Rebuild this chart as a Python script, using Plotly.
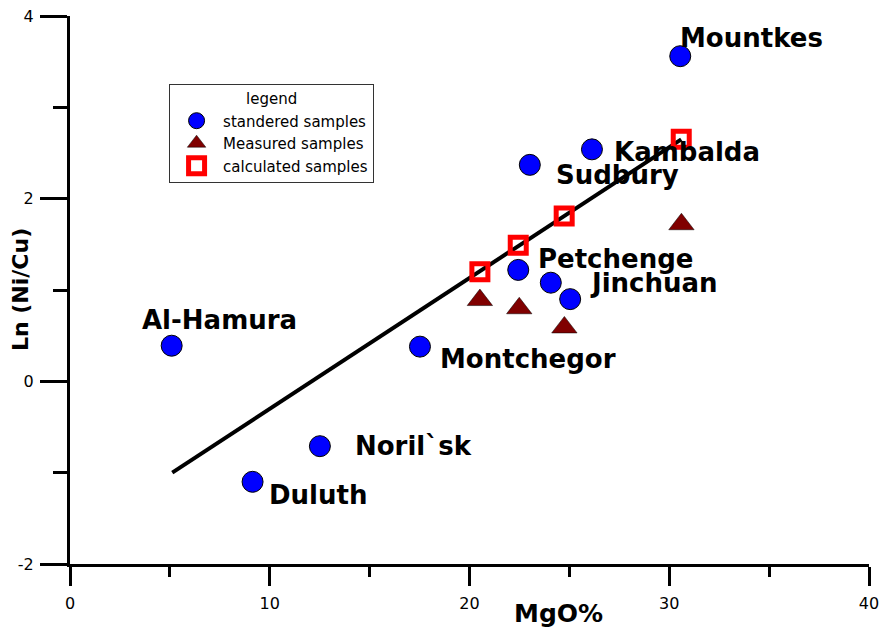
import plotly.graph_objects as go

# ---- data ----
std_x = [30.55, 26.13, 23.02, 22.44, 24.07, 25.04, 5.09, 17.52, 12.51, 9.14]
std_y = [3.56, 2.54, 2.37, 1.22, 1.08, 0.90, 0.39, 0.38, -0.71, -1.10]
std_labels = ["Mountkes", "Kambalda", "Sudbury", "Petchenge", "", "Jinchuan",
              "Al-Hamura", "Montchegor", "Noril`sk", "Duluth"]
# label offsets in pixels (dx, dy)
label_dx = [-2, 20, 24, 18, 0, 18, -32, 18, 33, 14]
label_dy = [18, -3, -10, 11, 0, 16, 26, -12, 0, -13]

meas_x = [20.52, 22.49, 24.75, 30.61]
meas_y = [0.89, 0.80, 0.59, 1.72]

calc_x = [20.52, 22.44, 24.74, 30.60]
calc_y = [1.20, 1.49, 1.81, 2.65]

fit_x = [5.12, 30.60]
fit_y = [-1.00, 2.65]

x_ticks = [0, 10, 20, 30, 40]
x_tick_text = ["0", "10", "20", "30", "40"]
y_ticks = [-2, 0, 2, 4]
y_tick_text = ["-2", "0", "2", "4"]

LABEL_FONT = dict(family="DejaVu Sans", size=26, color="black")

fig = go.Figure()

fig.add_trace(go.Scatter(
    x=fit_x, y=fit_y, mode="lines", line=dict(color="black", width=4),
    showlegend=False, hoverinfo="skip"))

fig.add_trace(go.Scatter(
    x=std_x, y=std_y, mode="markers", name="standered samples",
    marker=dict(symbol="circle", size=21, color="#0000FF",
                line=dict(color="black", width=1)), cliponaxis=False))

fig.add_trace(go.Scatter(
    x=meas_x, y=meas_y, mode="markers", name="Measured samples",
    marker=dict(symbol="triangle-up", size=22, color="#800000",
                line=dict(color="black", width=0.5)), cliponaxis=False))

fig.add_trace(go.Scatter(
    x=calc_x, y=calc_y, mode="markers", name="calculated samples",
    marker=dict(symbol="square-open", size=16, color="#FF0000",
                line=dict(color="#FF0000", width=5)), cliponaxis=False))

for x, y, t, dx, dy in zip(std_x, std_y, std_labels, label_dx, label_dy):
    if not t:
        continue
    fig.add_annotation(x=x, y=y, text="<b>%s</b>" % t, showarrow=False,
                       xanchor="left", yanchor="middle", xshift=dx, yshift=dy,
                       font=LABEL_FONT)

# axis titles
fig.add_annotation(x=0.611, y=-0.09, xref="paper", yref="paper",
                   text="<b>MgO%</b>", showarrow=False,
                   xanchor="center", yanchor="middle",
                   font=dict(family="DejaVu Sans", size=25, color="black"))
fig.add_annotation(x=-0.0625, y=0.5, xref="paper", yref="paper",
                   text="<b>Ln (Ni/Cu)</b>", showarrow=False, textangle=-90,
                   xanchor="center", yanchor="middle",
                   font=dict(family="DejaVu Sans", size=22, color="black"))

fig.update_layout(
    width=883, height=630,
    margin=dict(l=70, r=14, t=16, b=66, autoexpand=False),
    paper_bgcolor="white", plot_bgcolor="white",
    font=dict(family="DejaVu Sans", size=14, color="black"),
    legend=dict(
        x=0.124, y=0.876, xanchor="left", yanchor="top",
        bgcolor="white", bordercolor="#333333", borderwidth=1,
        font=dict(family="DejaVu Sans", size=15, color="black"),
        title=dict(text="legend", side="top center",
                   font=dict(family="DejaVu Sans", size=15, color="black")),
        tracegroupgap=0, itemwidth=43,
    ),
    xaxis=dict(range=[0, 40], tickvals=x_ticks, ticktext=x_tick_text,
               showgrid=False, zeroline=False,
               automargin=False, ticklabeloverflow="allow",
               showline=True, linecolor="black", linewidth=3,
               ticks="outside", ticklen=19, tickwidth=3, tickcolor="black",
               ticklabelstandoff=4,
               minor=dict(dtick=5, ticks="outside", ticklen=10, tickwidth=3,
                          tickcolor="black", showgrid=False),
               tickfont=dict(family="DejaVu Sans", size=16, color="black")),
    yaxis=dict(range=[-2, 4], tickvals=y_ticks, ticktext=y_tick_text,
               showgrid=False, zeroline=False,
               automargin=False, ticklabeloverflow="allow",
               showline=True, linecolor="black", linewidth=3,
               ticks="outside", ticklen=27, tickwidth=3, tickcolor="black",
               ticklabelstandoff=3,
               minor=dict(dtick=1, ticks="outside", ticklen=14, tickwidth=3,
                          tickcolor="black", showgrid=False),
               tickfont=dict(family="DejaVu Sans", size=16, color="black")),
)

# remove the default 8px page margin so the figure fills the window exactly
fig.write_html("out.html",
               config={"displayModeBar": False, "staticPlot": True},
               post_script="document.body.style.margin='0';document.body.style.overflow='hidden';")
